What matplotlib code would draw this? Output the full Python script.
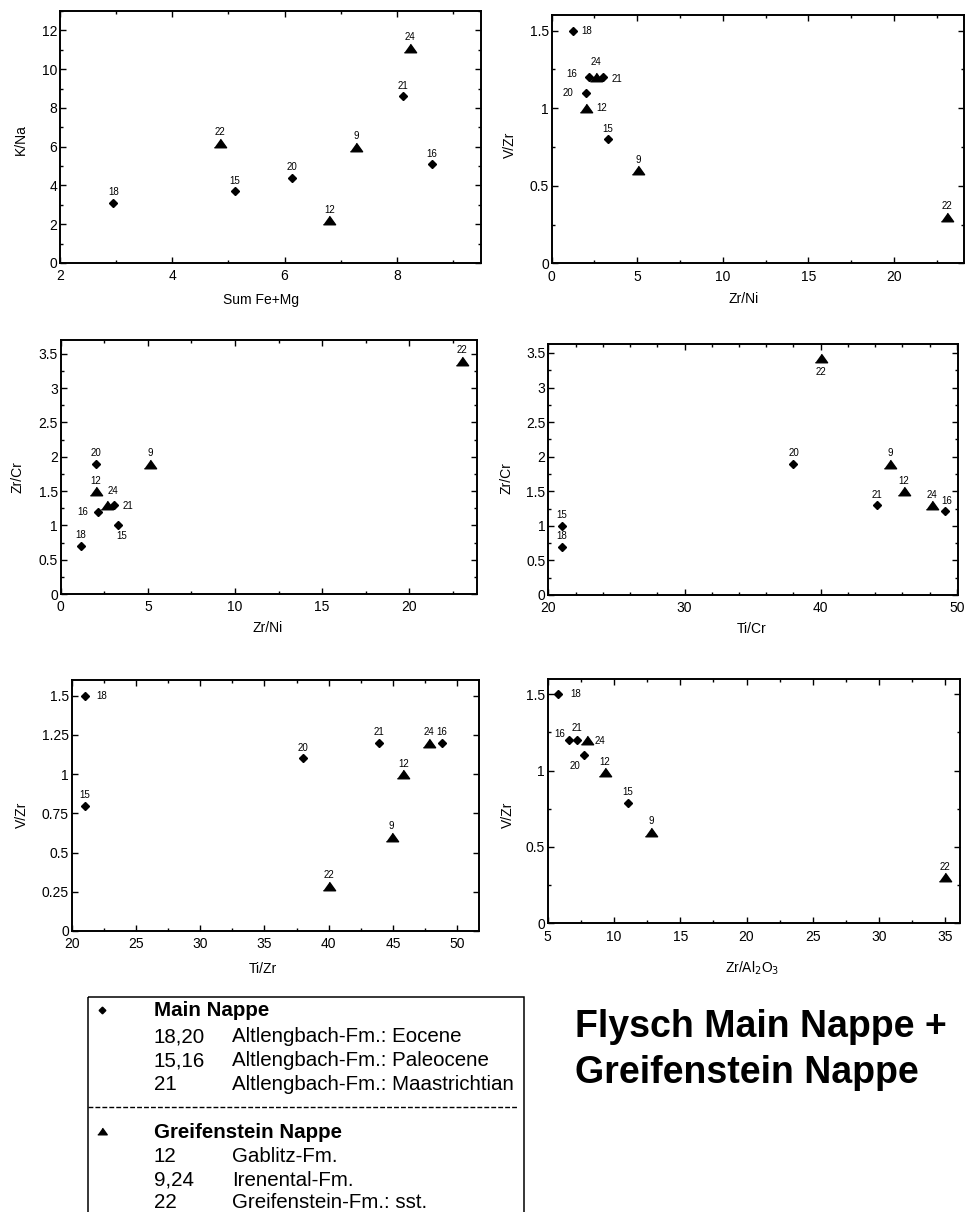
import matplotlib
matplotlib.use("Agg")
import matplotlib.pyplot as plt
from matplotlib.ticker import MultipleLocator, AutoMinorLocator, FuncFormatter
from matplotlib.patches import Rectangle

plt.rcParams['font.family'] = ['Liberation Sans', 'DejaVu Sans']

# ---------------- data ----------------
samples = ['18', '20', '15', '16', '21', '12', '9', '24', '22']
groups = ['main', 'main', 'main', 'main', 'main', 'greif', 'greif', 'greif', 'greif']

p1_x = [2.95, 6.14, 5.11, 8.62, 8.11, 6.80, 7.28, 8.23, 4.85]   # Sum Fe+Mg
p1_y = [3.1, 4.4, 3.7, 5.1, 8.6, 2.2, 6.0, 11.1, 6.2]          # K/Na

p2_x = [1.27, 2.0, 3.28, 2.2, 3.0, 2.0, 5.03, 2.6, 23.1]        # Zr/Ni
p2_y = [1.5, 1.1, 0.8, 1.2, 1.2, 1.0, 0.6, 1.2, 0.3]           # V/Zr

p3_x = [1.15, 2.0, 3.27, 2.16, 3.06, 2.0, 5.14, 2.64, 23.0]     # Zr/Ni
p3_y = [0.7, 1.9, 1.0, 1.2, 1.3, 1.5, 1.9, 1.3, 3.4]           # Zr/Cr

p4_x = [21.0, 38.0, 21.0, 49.1, 44.1, 46.1, 45.1, 48.2, 40.0]   # Ti/Cr
p4_y = [0.7, 1.9, 1.0, 1.22, 1.3, 1.5, 1.9, 1.3, 3.43]         # Zr/Cr

p5_x = [21.0, 38.0, 21.0, 48.8, 43.9, 45.8, 44.9, 47.8, 40.0]   # Ti/Zr
p5_y = [1.5, 1.1, 0.8, 1.2, 1.2, 1.0, 0.6, 1.2, 0.29]          # V/Zr

p6_x = [5.75, 7.71, 11.07, 6.63, 7.23, 9.32, 12.78, 7.94, 34.95]  # Zr/Al2O3
p6_y = [1.5, 1.1, 0.79, 1.2, 1.2, 0.99, 0.6, 1.2, 0.3]            # V/Zr

legend_main_title = 'Main Nappe'
legend_main_codes = ['18,20', '15,16', '21']
legend_main_desc = ['Altlengbach-Fm.: Eocene', 'Altlengbach-Fm.: Paleocene',
                    'Altlengbach-Fm.: Maastrichtian']
legend_greif_title = 'Greifenstein Nappe'
legend_greif_codes = ['12', '9,24', '22']
legend_greif_desc = ['Gablitz-Fm.', 'Irenental-Fm.', 'Greifenstein-Fm.: sst.']
title_lines = ['Flysch Main Nappe +', 'Greifenstein Nappe']

# ---------------- layout ----------------
W, H = 969, 1212
fig = plt.figure(figsize=(W / 100, H / 100), dpi=100)

overlay = fig.add_axes([0, 0, 1, 1])
overlay.set_xlim(0, W)
overlay.set_ylim(H, 0)
overlay.axis('off')

TRI = [(-1, -0.7), (1, -0.7), (0, 0.7)]


def px_axes(l, t, r, b):
    return fig.add_axes([l / W, 1 - b / H, (r - l) / W, (b - t) / H])


fmt = FuncFormatter(lambda v, p: f'{v:g}')

# default label offset: above the marker (pixels)
ABOVE = (0, 10.5, 'center')


def panel(rect, xs, ys, xlim, ylim, xmaj, xmin_n, ymaj, ymin_n, xlabel, ylabel,
          xlab_pos, ylab_pos, offsets):
    ax = px_axes(*rect)
    for x, y, s, g in zip(xs, ys, samples, groups):
        if g == 'main':
            ax.plot([x], [y], marker='D', ms=4.4, color='black', ls='none',
                    clip_on=False, zorder=3)
        else:
            ax.plot([x], [y], marker=TRI, ms=8.8, color='black', ls='none',
                    clip_on=False, zorder=3)
        dx, dy, ha = offsets.get(s, ABOVE)
        ax.annotate(s, (x, y), xytext=(dx, dy), textcoords='offset pixels',
                    ha=ha, va='center', fontsize=7, zorder=4)
    ax.set_xlim(*xlim)
    ax.set_ylim(*ylim)
    ax.xaxis.set_major_locator(MultipleLocator(xmaj))
    ax.yaxis.set_major_locator(MultipleLocator(ymaj))
    if xmin_n:
        ax.xaxis.set_minor_locator(AutoMinorLocator(xmin_n))
    if ymin_n:
        ax.yaxis.set_minor_locator(AutoMinorLocator(ymin_n))
    ax.xaxis.set_major_formatter(fmt)
    ax.yaxis.set_major_formatter(fmt)
    ax.tick_params(which='both', direction='in', top=True, right=True,
                   labelsize=10, width=1)
    ax.tick_params(which='major', length=4)
    ax.tick_params(axis='x', which='major', pad=4.5)
    ax.tick_params(axis='y', which='major', pad=2)
    ax.tick_params(which='minor', length=2)
    for sp in ax.spines.values():
        sp.set_linewidth(1.4)
    overlay.text(xlab_pos[0], xlab_pos[1], xlabel, ha='center', va='center',
                 fontsize=10)
    overlay.text(ylab_pos[0], ylab_pos[1], ylabel, ha='center', va='center',
                 fontsize=10, rotation=90)
    return ax


panel((60, 11, 481, 263), p1_x, p1_y, (2, 9.5), (0, 13), 2, 2, 2, 2,
      'Sum Fe+Mg', 'K/Na', (261, 300), (21, 140), {})

panel((551.7, 15, 964, 263.3), p2_x, p2_y, (0, 24.1), (0, 1.6), 5, 2, 0.5, 2,
      'Zr/Ni', 'V/Zr', (744, 299), (510, 145),
      {'18': (8, 0, 'left'), '24': (0, 15, 'center'), '16': (-12, 3, 'right'),
       '21': (9, -2, 'left'), '20': (-12.7, 0, 'right'), '12': (10.7, 0, 'left')})

panel((60.7, 340, 477.3, 594), p3_x, p3_y, (0, 23.9), (0, 3.7), 5, 2, 0.5, 2,
      'Zr/Ni', 'Zr/Cr', (268, 628), (18, 477),
      {'24': (6.6, 13.7, 'center'), '21': (8.7, -1, 'left'),
       '16': (-10, 0, 'right'), '15': (3.6, -10.7, 'center')})

panel((548.3, 344, 958.3, 595), p4_x, p4_y, (20, 50.1), (0, 3.63), 10, 5, 0.5, 2,
      'Ti/Cr', 'Zr/Cr', (752, 629), (507, 478),
      {'22': (0, -14.3, 'center'), '16': (2.4, 10, 'center')})

panel((71.7, 680, 479, 931), p5_x, p5_y, (20, 51.7), (0, 1.6), 5, 2, 0.25, 0,
      'Ti/Zr', 'V/Zr', (263, 969), (22, 815),
      {'18': (11.7, 0, 'left')})

panel((547.7, 679, 960, 923.3), p6_x, p6_y, (5, 36.1), (0, 1.6), 5, 2, 0.5, 2,
      'Zr/Al$_2$O$_3$', 'V/Zr', (752, 968), (508, 815),
      {'18': (13, 0, 'left'), '16': (-4.3, 5.7, 'right'), '21': (0, 11.7, 'center'),
       '24': (7.6, -1, 'left'), '20': (-8.7, -11, 'center')})

# ---------------- legend box ----------------
overlay.add_patch(Rectangle((88, 996.7), 524.3 - 88, 240, fill=False,
                            lw=1.1, ec='black', clip_on=True))
overlay.plot([88, 516.7], [1106.7, 1106.7], color='black', lw=1.0,
             ls=(0, (3.5, 1.5)))
overlay.plot([101.7], [1010], marker='D', ms=3.4, color='black', ls='none')
overlay.plot([101.7], [1131], marker=TRI, ms=6.8, color='black', ls='none')

LFS = 14.8
overlay.text(154, 1010, legend_main_title, fontsize=LFS, fontweight='bold',
             ha='left', va='center')
for i, (c, d) in enumerate(zip(legend_main_codes, legend_main_desc)):
    yy = [1036.7, 1061, 1085][i]
    overlay.text(154, yy, c, fontsize=LFS, ha='left', va='center')
    overlay.text(231.7, yy, d, fontsize=LFS, ha='left', va='center')

overlay.text(154, 1133, legend_greif_title, fontsize=LFS, fontweight='bold',
             ha='left', va='center')
for i, (c, d) in enumerate(zip(legend_greif_codes, legend_greif_desc)):
    yy = [1156.7, 1180, 1202.5][i]
    overlay.text(154, yy, c, fontsize=LFS, ha='left', va='center')
    overlay.text(231.7, yy, d, fontsize=LFS, ha='left', va='center')

# ---------------- title ----------------
overlay.text(575, 1037, title_lines[0], fontsize=27, fontweight='bold',
             ha='left', va='baseline')
overlay.text(575, 1083, title_lines[1], fontsize=27, fontweight='bold',
             ha='left', va='baseline')

fig.savefig('out.png', dpi=100)
